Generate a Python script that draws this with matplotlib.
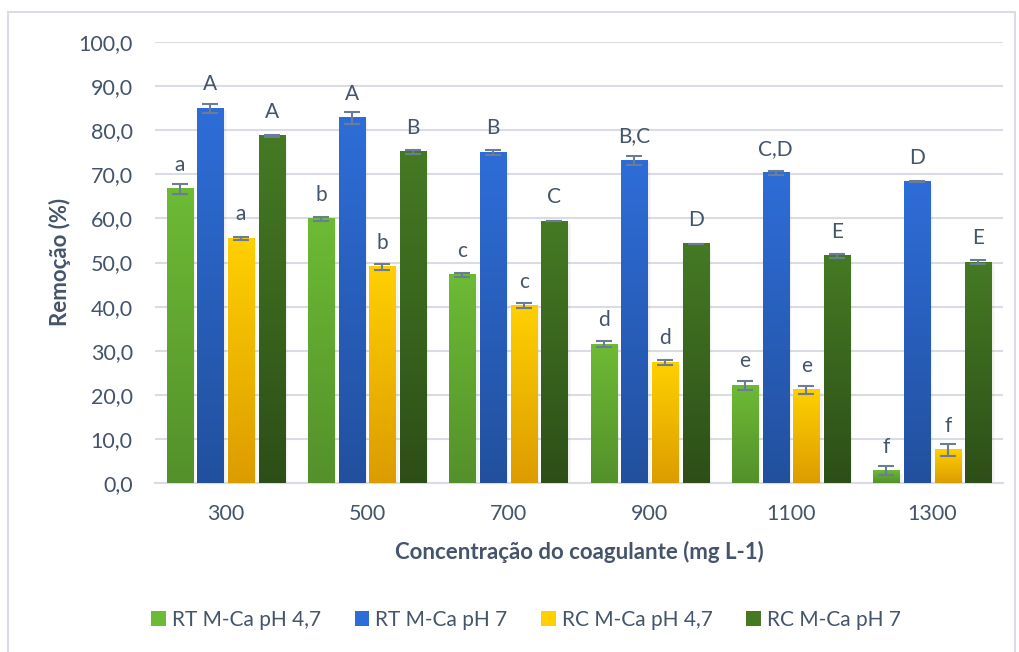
import matplotlib.pyplot as plt
import numpy as np
from matplotlib.colors import LinearSegmentedColormap
from matplotlib.patches import Rectangle, Patch

plt.rcParams['font.family'] = ['Lato', 'DejaVu Sans']

concentracoes = ['300', '500', '700', '900', '1100', '1300']
series = ['RT M-Ca pH 4,7', 'RT M-Ca pH 7', 'RC M-Ca pH 4,7', 'RC M-Ca pH 7']

rt_ph47 = [66.7, 59.9, 47.2, 31.5, 22.2, 2.8]
rt_ph7 = [85.0, 82.8, 75.0, 73.2, 70.3, 68.3]
rc_ph47 = [55.5, 49.0, 40.2, 27.4, 21.1, 7.5]
rc_ph7 = [78.7, 75.1, 59.4, 54.2, 51.5, 50.1]

err_rt_ph47 = [1.1, 0.5, 0.4, 0.6, 1.0, 1.0]
err_rt_ph7 = [1.0, 1.4, 0.6, 1.0, 0.4, 0.1]
err_rc_ph47 = [0.3, 0.6, 0.6, 0.6, 1.0, 1.4]
err_rc_ph7 = [0.3, 0.4, 0.1, 0.1, 0.4, 0.5]

letras_rt_ph47 = ['a', 'b', 'c', 'd', 'e', 'f']
letras_rt_ph7 = ['A', 'A', 'B', 'B,C', 'C,D', 'D']
letras_rc_ph47 = ['a', 'b', 'c', 'd', 'e', 'f']
letras_rc_ph7 = ['A', 'B', 'C', 'D', 'E', 'E']

valores = [rt_ph47, rt_ph7, rc_ph47, rc_ph7]
erros = [err_rt_ph47, err_rt_ph7, err_rc_ph47, err_rc_ph7]
letras = [letras_rt_ph47, letras_rt_ph7, letras_rc_ph47, letras_rc_ph7]

# gradient colours (top, bottom)
cores = [('#6dbb35', '#54902b'),
         ('#2e6dd8', '#22509e'),
         ('#ffd000', '#dc9c00'),
         ('#457a23', '#2d4e18')]

texto = '#44546a'

fig = plt.figure(figsize=(10.19, 6.52), dpi=100)
ax = fig.add_axes([155 / 1019, 1 - 483 / 652, 848 / 1019, 441 / 652])

# chart border
fig.patches.append(Rectangle((8 / 1019, -0.05), 1007 / 1019, 1 - 12 / 652 + 0.05,
                             transform=fig.transFigure, fill=False,
                             edgecolor='#d9dde3', linewidth=1.5))

x = np.arange(len(concentracoes))
pitch = 0.217
width = 0.184

for i in range(4):
    pos = x + (i - 1.5) * pitch
    cmap = LinearSegmentedColormap.from_list('g%d' % i, [cores[i][1], cores[i][0]])
    grad = np.linspace(0, 1, 256).reshape(-1, 1)
    for j in range(len(x)):
        v = valores[i][j]
        x0 = pos[j] - width / 2
        # soft shadow
        for k, a in enumerate([0.10, 0.07, 0.04]):
            off = 0.004 * (k + 1)
            ax.add_patch(Rectangle((x0 + off, -0.25 * (k + 1)), width + off, v,
                                   facecolor='#808080', alpha=a, linewidth=0, zorder=2))
        ax.imshow(grad, extent=[x0, x0 + width, 0, v], origin='lower', cmap=cmap,
                  aspect='auto', zorder=3)
    ax.errorbar(pos, valores[i], yerr=erros[i], fmt='none', ecolor='#6b7d96',
                elinewidth=1.5, capsize=6, capthick=1.5, zorder=4)
    for j in range(len(x)):
        ax.annotate(letras[i][j], (pos[j], valores[i][j]), xytext=(0, 13),
                    textcoords='offset points', ha='center', va='baseline',
                    fontsize=15, color=texto, zorder=5)

ax.set_xlim(-0.5, 5.5)
ax.set_ylim(0, 100)
ax.set_yticks(np.arange(0, 101, 10))
ax.set_yticklabels([('%.1f' % t).replace('.', ',') for t in np.arange(0, 101, 10)])
ax.set_xticks(x)
ax.set_xticklabels(concentracoes)
ax.tick_params(axis='y', length=0, pad=16, labelsize=15.5, labelcolor=texto)
ax.tick_params(axis='x', length=0, pad=15, labelsize=15.5, labelcolor=texto)
ax.grid(axis='y', color='#d9dde3', linewidth=1.5, zorder=0)
ax.set_axisbelow(True)
for s in ['top', 'right', 'left']:
    ax.spines[s].set_visible(False)
ax.spines['bottom'].set_color('#d9dde3')
ax.spines['bottom'].set_linewidth(1.5)

fig.text(60 / 1019, 1 - 262 / 652, 'Remoção (%)', rotation=90, ha='center', va='center',
         fontsize=16, fontweight='bold', color=texto)
fig.text(579 / 1019, 1 - 552 / 652, 'Concentração do coagulante (mg L-1)', ha='center',
         va='center', fontsize=16, fontweight='bold', color=texto)

handles = [Patch(facecolor=c[0], edgecolor='none') for c in cores]
fig.legend(handles, series, loc='center', bbox_to_anchor=(526 / 1019, 1 - 620 / 652),
           ncol=4, frameon=False, fontsize=15, labelcolor=texto, handlelength=0.7,
           handleheight=0.7, handletextpad=0.3, columnspacing=1.6)

fig.savefig('out.png', dpi=100)
